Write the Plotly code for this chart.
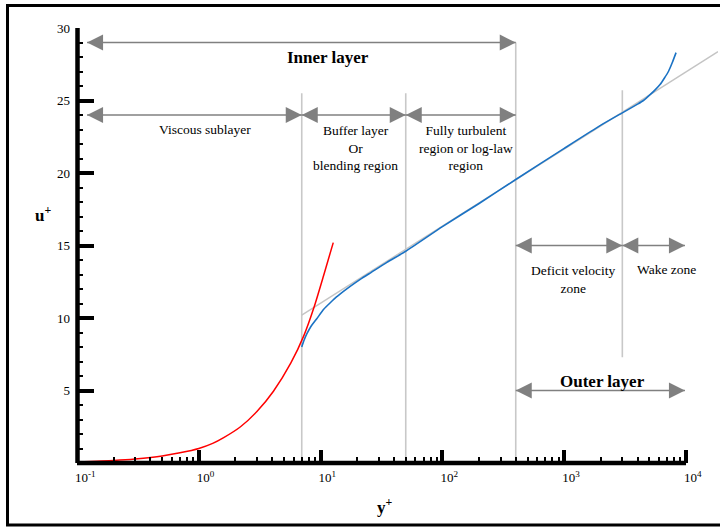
import math
import plotly.graph_objects as go

# ---- data -----------------------------------------------------------------
# viscous sublayer relation (red)
visc_yplus = [0.1, 0.2, 0.3, 0.5, 0.7, 1.0, 1.3, 1.6, 2.2, 3.0, 4.1, 5.7, 7.3, 8.8, 10.6, 12.7]
visc_uplus = [0.08, 0.18, 0.28, 0.48, 0.7, 1.0, 1.35, 1.75, 2.5, 3.55, 4.95, 6.9, 8.8, 10.7, 12.95, 15.2]

# measured velocity profile (blue)
profile_yplus = [7.0, 7.3, 7.7, 8.3, 9.3, 10.6, 12.0, 13.5, 15.5, 17.6, 21, 25, 35, 50, 100, 200,
                 400, 1000, 2000, 3000, 4000, 4470, 5070, 5600, 6120, 6650, 7170, 7700, 8280]
profile_uplus = [8.0, 8.45, 8.9, 9.4, 9.95, 10.6, 11.05, 11.45, 11.85, 12.2, 12.65, 13.05, 13.84,
                 14.6, 16.3, 17.9, 19.55, 21.7, 23.3, 24.15, 24.75, 25.0, 25.4, 25.75, 26.1,
                 26.55, 27.0, 27.6, 28.3]

# log-law reference line (light grey)
loglaw_yplus = [7.0, 18300]
loglaw_uplus = [10.2, 28.37]

# region boundaries in y+ and the extent of each divider in u+
region_bounds = [7, 50, 400, 3000]
divider_top = [25.5, 25.5, 29.0, 25.7]
divider_bottom = [0, 0, 0, 7.3]

# double-headed arrows: (left y+, right y+, u+)
arrow_left_end = 0.121
arrow_right_end = 9800
arrows = [
    (arrow_left_end, region_bounds[2], 29),
    (arrow_left_end, region_bounds[0], 24),
    (region_bounds[0], region_bounds[1], 24),
    (region_bounds[1], region_bounds[2], 24),
    (region_bounds[2], region_bounds[3], 15),
    (region_bounds[3], arrow_right_end, 15),
    (region_bounds[2], arrow_right_end, 5),
]

# region labels: (text, y+, u+, bold)
labels = [
    ("Inner layer", 11.4, 28.0, True),
    ("Viscous sublayer", 1.12, 22.97, False),
    ("Buffer layer<br>Or<br>blending region", 19.4, 21.73, False),
    ("Fully turbulent<br>region or log-law<br>region", 157, 21.73, False),
    ("Deficit velocity<br>zone", 1186, 12.67, False),
    ("Wake zone", 6855, 13.32, False),
    ("Outer layer", 2047, 5.6, True),
]

x_major = [0.1, 1, 10, 100, 1000, 10000]
x_major_text = ["10<sup>-1</sup>", "10<sup>0</sup>", "10<sup>1</sup>",
                "10<sup>2</sup>", "10<sup>3</sup>", "10<sup>4</sup>"]
x_minor = [m * 10 ** e for e in range(-1, 4) for m in range(2, 10)]
y_major = [5, 10, 15, 20, 25, 30]
y_limits = [0, 30]

# ---- layout geometry --------------------------------------------------------
W, H = 720, 527
ML, MR, MT, MB = 77, 2, 28, 64
PW, PH = W - ML - MR, H - MT - MB
X_MAX = 18300
SERIF = "Liberation Serif, Times New Roman, serif"
ARROW_GREY = "#808080"


def px_to_paper(px, py):
    return (px - ML) / PW, (H - MB - py) / PH


fig = go.Figure()

# region dividers
for b, top, bot in zip(region_bounds, divider_top, divider_bottom):
    fig.add_trace(go.Scatter(x=[b, b], y=[bot, top], mode="lines",
                             line=dict(color="#c8c8c8", width=1.6),
                             hoverinfo="skip", showlegend=False))

# log law
fig.add_trace(go.Scatter(x=loglaw_yplus, y=loglaw_uplus, mode="lines",
                         line=dict(color="#c4c4c4", width=1.4), showlegend=False))
# viscous sublayer
fig.add_trace(go.Scatter(x=visc_yplus, y=visc_uplus, mode="lines",
                         line_shape="spline", line_smoothing=0.6,
                         line=dict(color="#ff0000", width=1.5), showlegend=False))
# velocity profile
fig.add_trace(go.Scatter(x=profile_yplus, y=profile_uplus, mode="lines",
                         line_shape="spline", line_smoothing=0.5,
                         line=dict(color="#1a72c4", width=1.6), showlegend=False))

# arrows
for x0, x1, u in arrows:
    fig.add_trace(go.Scatter(x=[x0, x1], y=[u, u], mode="lines+markers",
                             line=dict(color=ARROW_GREY, width=1.5),
                             marker=dict(symbol=["arrow-left", "arrow-right"], size=16,
                                         color=ARROW_GREY, line=dict(width=0)),
                             hoverinfo="skip", showlegend=False))

annotations = []
for text, xv, yv, bold in labels:
    annotations.append(dict(
        x=math.log10(xv), y=yv, xref="x", yref="y", showarrow=False,
        text=f"<b>{text}</b>" if bold else text,
        font=dict(family=SERIF, size=17 if bold else 13.5, color="black"),
        align="center", xanchor="center", yanchor="middle"))

# axis titles
ux, uy = px_to_paper(43, 214)
annotations.append(dict(x=ux, y=uy, xref="paper", yref="paper", showarrow=False,
                        text="<b>u<sup>+</sup></b>", xanchor="center", yanchor="middle",
                        font=dict(family=SERIF, size=17, color="black")))
yx, yy = px_to_paper(385, 506)
annotations.append(dict(x=yx, y=yy, xref="paper", yref="paper", showarrow=False,
                        text="<b>y<sup>+</sup></b>", xanchor="center", yanchor="middle",
                        font=dict(family=SERIF, size=17, color="black")))

# outer frame
fx0, fy1 = px_to_paper(7.5, 525)
fx1, fy0 = px_to_paper(730, 5.5)
yline_x, _ = px_to_paper(77.5, 0)
shapes = [
    dict(type="rect", xref="paper", yref="paper", x0=fx0, x1=fx1, y0=fy1, y1=fy0,
         line=dict(color="black", width=3), fillcolor="rgba(0,0,0,0)"),
    # horizontal axis line, spanning the labelled decades only
    dict(type="line", xref="x", yref="paper", x0=x_major[0], x1=x_major[-1], y0=0, y1=0,
         line=dict(color="black", width=4.5)),
    # vertical axis line
    dict(type="line", xref="paper", yref="y", x0=yline_x, x1=yline_x,
         y0=y_limits[0], y1=y_limits[1], line=dict(color="black", width=4.5)),
]

fig.update_layout(
    width=W, height=H,
    margin=dict(l=ML, r=MR, t=MT, b=MB, pad=0),
    paper_bgcolor="white", plot_bgcolor="white",
    showlegend=False,
    annotations=annotations,
    shapes=shapes,
    xaxis=dict(
        type="log", range=[-1, math.log10(X_MAX)],
        showline=False, showgrid=False, zeroline=False,
        tickmode="array", tickvals=x_major, ticktext=x_major_text,
        ticks="inside", ticklen=13, tickwidth=4, tickcolor="black",
        ticklabelposition="outside right", ticklabelstandoff=5, ticklabelshift=-4,
        tickfont=dict(family=SERIF, size=13, color="black"),
        minor=dict(tickmode="array", tickvals=x_minor, ticks="inside",
                   ticklen=6, tickwidth=1.5, tickcolor="black", showgrid=False),
    ),
    yaxis=dict(
        range=y_limits,
        showline=False,
        showgrid=False, zeroline=False,
        tickmode="array", tickvals=y_major,
        ticks="inside", ticklen=17, tickwidth=4, tickcolor="black",
        ticklabelstandoff=6,
        tickfont=dict(family=SERIF, size=13, color="black"),
        minor=dict(tickmode="linear", tick0=0, dtick=1, ticks="inside",
                   ticklen=6, tickwidth=1.5, tickcolor="black", showgrid=False),
    ),
)

fig.write_html("out.html")
